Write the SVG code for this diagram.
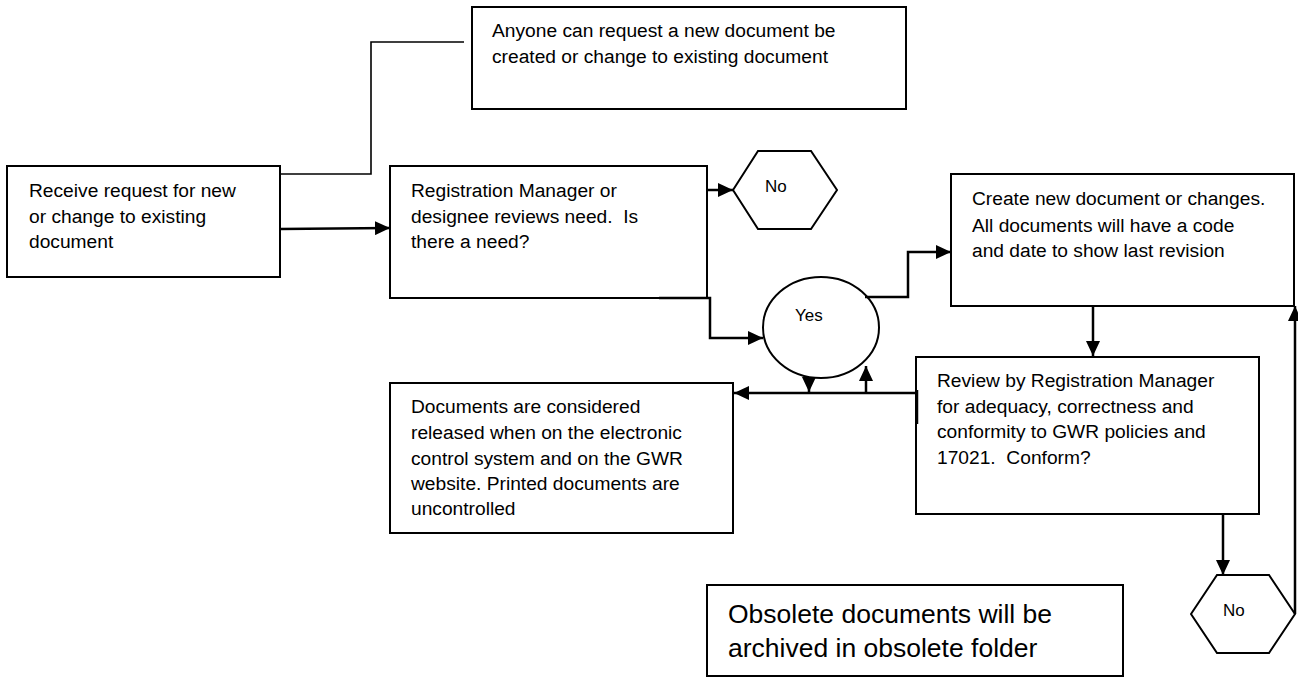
<svg xmlns="http://www.w3.org/2000/svg" width="1298" height="677" viewBox="0 0 1298 677">
<style>
.box{fill:#fff;stroke:#000;stroke-width:2}
.t{font-family:"Liberation Sans",Arial,sans-serif;font-size:19.2px;fill:#000;white-space:pre}
.s{font-family:"Liberation Sans",Arial,sans-serif;font-size:17px;fill:#000}
.big{font-family:"Liberation Sans",Arial,sans-serif;font-size:26.5px;fill:#000}
.c{fill:none;stroke:#000;stroke-width:2.5}
.thin{fill:none;stroke:#000;stroke-width:1.6}
</style>
<defs>
<marker id="ah" markerUnits="userSpaceOnUse" markerWidth="16" markerHeight="14" refX="15" refY="7" orient="auto">
<path d="M0,0 L15,7 L0,14 z" fill="#000"/>
</marker>
</defs>
<rect width="1298" height="677" fill="#fff"/>
<g id="n-receive">
<rect class="box" x="7" y="166" width="273" height="111"/>
<text class="t" x="29" y="197">Receive request for new</text>
<text class="t" x="29" y="223">or change to existing</text>
<text class="t" x="29" y="248">document</text>
</g>
<g id="n-anyone">
<rect class="box" x="472" y="7" width="434" height="102"/>
<text class="t" x="492" y="37">Anyone can request a new document be</text>
<text class="t" x="492" y="63">created or change to existing document</text>
</g>
<g id="n-regmgr">
<rect class="box" x="390" y="166" width="317" height="132"/>
<text class="t" x="411" y="197">Registration Manager or</text>
<text class="t" x="411" y="223">designee reviews need.  Is</text>
<text class="t" x="411" y="248">there a need?</text>
</g>
<g id="n-no1">
<polygon class="box" points="733,190 758,151 811,151 837,190 811,229 758,229"/>
<text class="s" x="765" y="192">No</text>
</g>
<g id="n-yes">
<ellipse class="box" cx="821" cy="327.5" rx="58" ry="50.5"/>
<text class="s" x="795" y="321">Yes</text>
</g>
<g id="n-create">
<rect class="box" x="951" y="174" width="343" height="132"/>
<text class="t" x="972" y="205">Create new document or changes.</text>
<text class="t" x="972" y="232">All documents will have a code</text>
<text class="t" x="972" y="257">and date to show last revision</text>
</g>
<g id="n-review">
<rect class="box" x="916" y="357" width="343" height="157"/>
<text class="t" x="937" y="387">Review by Registration Manager</text>
<text class="t" x="937" y="413">for adequacy, correctness and</text>
<text class="t" x="937" y="438">conformity to GWR policies and</text>
<text class="t" x="937" y="464">17021.  Conform?</text>
</g>
<g id="n-released">
<rect class="box" x="390" y="383" width="343" height="150"/>
<text class="t" x="411" y="413">Documents are considered</text>
<text class="t" x="411" y="439">released when on the electronic</text>
<text class="t" x="411" y="465">control system and on the GWR</text>
<text class="t" x="411" y="490">website. Printed documents are</text>
<text class="t" x="411" y="515">uncontrolled</text>
</g>
<g id="n-obsolete">
<rect class="box" x="707" y="585" width="416" height="91"/>
<text class="big" x="728" y="623">Obsolete documents will be</text>
<text class="big" x="728" y="657">archived in obsolete folder</text>
</g>
<g id="n-no2">
<polygon class="box" points="1191,614 1217,575 1269,575 1295,614 1269,653 1217,653"/>
<text class="s" x="1223" y="616">No</text>
</g>
<g id="connectors">
<polyline class="thin" points="280,174 371,174 371,42 464,42"/>
<line class="c" x1="280" y1="229" x2="390" y2="228" marker-end="url(#ah)"/>
<line class="c" x1="707" y1="190" x2="733" y2="190" marker-end="url(#ah)"/>
<polyline class="c" points="659,298 710,298 710,338 763,338" marker-end="url(#ah)"/>
<polyline class="c" points="865,297 908,297 908,252 951,252" marker-end="url(#ah)"/>
<line class="c" x1="1093" y1="306" x2="1093" y2="356" marker-end="url(#ah)"/>
<line class="c" x1="917" y1="393" x2="734" y2="393" marker-end="url(#ah)"/>
<line class="c" x1="917" y1="390" x2="917" y2="424"/>
<line class="c" x1="809" y1="377" x2="809" y2="392" marker-end="url(#ah)"/>
<line class="c" x1="866" y1="393" x2="866" y2="366" marker-end="url(#ah)"/>
<line class="c" x1="1223" y1="514" x2="1223" y2="575" marker-end="url(#ah)"/>
<polyline class="c" points="1295,614 1295,306" marker-end="url(#ah)"/>
</g>
</svg>
